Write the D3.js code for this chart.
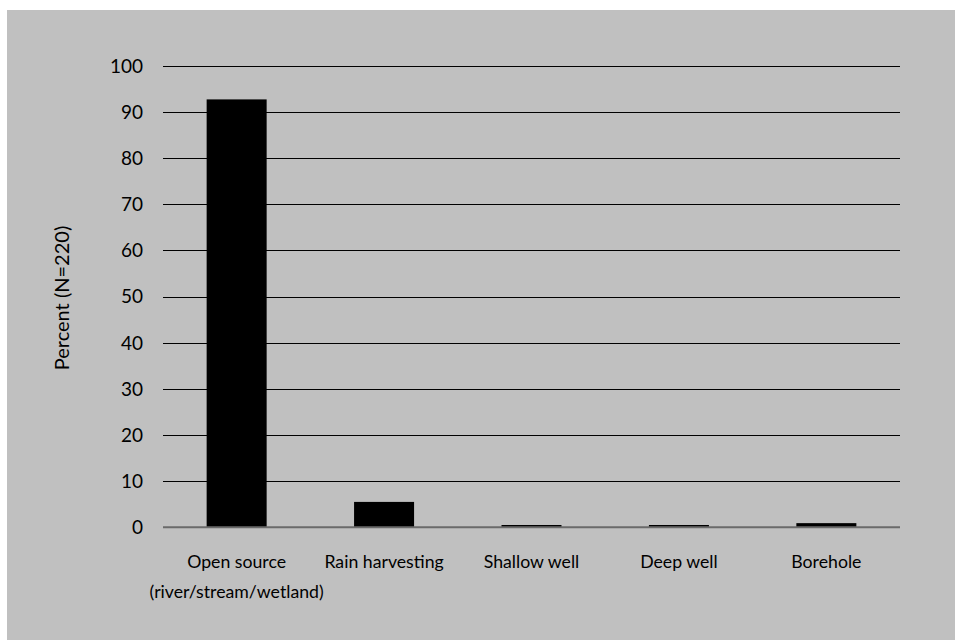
<!DOCTYPE html>
<html><head><meta charset="utf-8">
<script src="https://cdn.jsdelivr.net/npm/d3@7"></script>
<style>body{margin:0;background:#fff;} svg{display:block;}</style>
</head><body>
<svg id="c" width="956" height="641"></svg>
<script>
const categories = [["Open source","(river/stream/wetland)"],["Rain harvesting"],["Shallow well"],["Deep well"],["Borehole"]];
const values = [92.7, 5.5, 0.5, 0.5, 0.9];
const yTicks = [0,10,20,30,40,50,60,70,80,90,100];
const yLabel = "Percent (N=220)";

(function(){
const svg = d3.select("#c");
const font = "Lato, 'Open Sans', sans-serif";
svg.append("rect").attr("x",7).attr("y",10).attr("width",948).attr("height",630).attr("fill","#c0c0c0");

const pLeft=163, pRight=900, pTop=65.7, pBottom=527.3;
const x = d3.scaleBand().domain(d3.range(categories.length)).range([pLeft,pRight]).paddingInner(0.593).paddingOuter(0.296);
const y = d3.scaleLinear().domain([0,100]).range([pBottom, pTop]);

// gridlines
svg.append("g").selectAll("line").data(yTicks.filter(d=>d>0)).join("line")
  .attr("x1",pLeft).attr("x2",pRight).attr("y1",d=>Math.round(y(d))+0.5).attr("y2",d=>Math.round(y(d))+0.5)
  .attr("stroke","#000").attr("stroke-width",1);

// bars
svg.append("g").selectAll("rect").data(values).join("rect")
  .attr("x",(d,i)=>x(i)).attr("width",x.bandwidth())
  .attr("y",d=>y(d)).attr("height",d=>y(0)-y(d)).attr("fill","#000");

// axis line
svg.append("line").attr("x1",pLeft).attr("x2",pRight).attr("y1",y(0)).attr("y2",y(0))
  .attr("stroke","#6a6a6a").attr("stroke-width",2);

// y tick labels
svg.append("g").selectAll("text").data(yTicks).join("text")
  .attr("x",pLeft-20).attr("y",d=>y(d)).attr("dy","0.36em").attr("text-anchor","end")
  .attr("font-family",font).attr("font-size",19).attr("fill","#000").text(d=>d);

// x labels
const xl = svg.append("g").selectAll("text").data(categories).join("text")
  .attr("text-anchor","middle").attr("font-family",font).attr("font-size",17.7).attr("fill","#000");
xl.each(function(d,i){
  const t=d3.select(this);
  d.forEach((line,j)=>{
    t.append("tspan").attr("x",x(i)+x.bandwidth()/2).attr("y",568+j*30).text(line);
  });
});

// y label
svg.append("text").attr("transform",`translate(69,298) rotate(-90)`).attr("text-anchor","middle")
  .attr("font-family",font).attr("font-size",20).attr("fill","#000").text(yLabel);
})();
</script>
</body></html>
